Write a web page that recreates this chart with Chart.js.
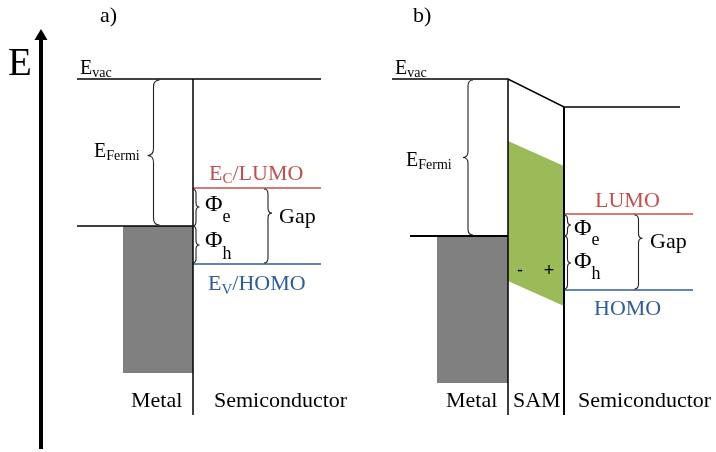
<!DOCTYPE html>
<html>
<head>
<meta charset="utf-8">
<script src="https://cdn.jsdelivr.net/npm/chart.js@4/dist/chart.umd.min.js"></script>
<style>
  html, body { margin: 0; padding: 0; background: #ffffff; }
  #wrap { width: 716px; height: 452px; }
</style>
</head>
<body>
<div id="wrap"><canvas id="bands" width="716" height="452"></canvas></div>
<script>
// Energy levels in arbitrary units (higher = more energetic).
// Index 0 = panel a (metal / semiconductor), index 1 = panel b (metal / SAM / semiconductor).
const vacuumA = [37.3, 37.3];      // metal side, semiconductor side
const vacuumB = [37.3, 34.5];      // metal side, semiconductor side (shifted by SAM dipole)
const fermi = [22.6, 21.6];
const lumo = [26.4, 23.8];
const homo = [18.8, 16.2];
const metalBase = [7.9, 6.9];      // lower edge of the filled metal band
const samTop = [31.1, 28.6];       // SAM dipole band, metal side / semiconductor side
const samBase = [17.1, 14.6];
const regionsA = ['Metal', 'Semiconductor'];
const regionsB = ['Metal', 'SAM', 'Semiconductor'];

// Horizontal layout of the two band diagrams (x-axis units)
const geo = {
  a: { start: 77, fermiStart: 77, metalLeft: 123, iface: 193, end: 321 },
  b: { start: 392, fermiStart: 410, metalLeft: 437, iface1: 508, iface2: 564, vacEnd: 680, end: 693 },
  floor: 3.7
};

const RED = '#C0504D';
const BLUE = '#2F5D99';
const GREEN = '#9BBB59';
const GREY = '#808080';
const SERIF = '"Liberation Serif", "Times New Roman", serif';

const pts = (...p) => p.map(([x, y]) => ({ x, y }));

function line(data, color, width, order = 1) {
  return { data, borderColor: color, borderWidth: width, pointRadius: 0, fill: false, order, tension: 0 };
}
function shape(data, color) {
  return { data, backgroundColor: color, borderColor: color, borderWidth: 0, pointRadius: 0, fill: 'shape', order: 5, tension: 0 };
}

const A = geo.a, B = geo.b;
const datasets = [
  // panel a
  line(pts([A.start, vacuumA[0]], [A.end, vacuumA[1]]), '#000', 1.5),
  line(pts([A.fermiStart, fermi[0]], [A.iface, fermi[0]]), '#000', 1.5),
  line(pts([A.iface, vacuumA[0]], [A.iface, geo.floor]), '#000', 1.5),
  line(pts([A.iface, lumo[0]], [A.end, lumo[0]]), RED, 1.5),
  line(pts([A.iface, homo[0]], [A.end, homo[0]]), BLUE, 1.5),
  shape(pts([A.metalLeft, fermi[0]], [A.iface, fermi[0]], [A.iface, metalBase[0]], [A.metalLeft, metalBase[0]], [A.metalLeft, fermi[0]]), GREY),
  // panel b
  line(pts([B.start, vacuumB[0]], [B.iface1, vacuumB[0]], [B.iface2, vacuumB[1]], [B.vacEnd, vacuumB[1]]), '#000', 1.5),
  line(pts([B.fermiStart, fermi[1]], [B.iface1, fermi[1]]), '#000', 2),
  line(pts([B.iface1, vacuumB[0]], [B.iface1, geo.floor]), '#000', 1.5),
  line(pts([B.iface2, vacuumB[1]], [B.iface2, geo.floor]), '#000', 2),
  line(pts([B.iface2, lumo[1]], [B.end, lumo[1]]), RED, 1.5),
  line(pts([B.iface2, homo[1]], [B.end, homo[1]]), BLUE, 1.5),
  shape(pts([B.metalLeft, fermi[1]], [B.iface1, fermi[1]], [B.iface1, metalBase[1]], [B.metalLeft, metalBase[1]], [B.metalLeft, fermi[1]]), GREY),
  shape(pts([B.iface1, samTop[0]], [B.iface2, samTop[1]], [B.iface2, samBase[1]], [B.iface1, samBase[0]], [B.iface1, samTop[0]]), GREEN)
];

// Vertical curly brace; dir = +1 tip points right, -1 tip points left
function brace(ctx, x, yTop, yBot, yTip, dir, w) {
  const r = Math.min(w + 1, (yBot - yTop) / 4);
  ctx.beginPath();
  ctx.moveTo(x - dir * w, yTop);
  ctx.quadraticCurveTo(x, yTop, x, yTop + r);
  ctx.lineTo(x, yTip - r);
  ctx.quadraticCurveTo(x, yTip, x + dir * w, yTip);
  ctx.quadraticCurveTo(x, yTip, x, yTip + r);
  ctx.lineTo(x, yBot - r);
  ctx.quadraticCurveTo(x, yBot, x - dir * w, yBot);
  ctx.stroke();
}

// Text made of runs: [text, size, baselineShift]
function rich(ctx, x, y, runs, color) {
  ctx.fillStyle = color;
  ctx.textBaseline = 'alphabetic';
  ctx.textAlign = 'left';
  let cx = x;
  for (const [t, size, dy, fam] of runs) {
    ctx.font = size + 'px ' + (fam || SERIF);
    ctx.fillText(t, cx, y + (dy || 0));
    cx += ctx.measureText(t).width;
  }
}

const annotations = {
  id: 'annotations',
  afterDatasetsDraw(chart) {
    const ctx = chart.ctx;
    const X = v => chart.scales.x.getPixelForValue(v);
    const Y = v => chart.scales.y.getPixelForValue(v);
    ctx.save();

    // Energy axis arrow
    ctx.fillStyle = '#000';
    ctx.fillRect(X(39), Y(42.3) + 8, 4, Y(0.3) - Y(42.3) - 8);
    ctx.beginPath();
    ctx.moveTo(X(41), Y(42.3));
    ctx.lineTo(X(47.5), Y(42.3) + 11);
    ctx.lineTo(X(34.5), Y(42.3) + 11);
    ctx.closePath();
    ctx.fill();
    rich(ctx, X(8), Y(3.3) + 0 + 72 - Y(3.3) + 3, [['E', 39]], '#000');

    // Braces
    ctx.strokeStyle = '#222';
    ctx.lineWidth = 1.1;
    brace(ctx, X(153.5), Y(vacuumA[0]) + 1, Y(fermi[0]) - 1, Y(22.6 + (37.3 - 22.6) * 0.48), -1, 6);
    brace(ctx, X(196), Y(lumo[0]) + 1, Y(fermi[0]), Y((lumo[0] + fermi[0]) / 2), 1, 3.5);
    brace(ctx, X(196), Y(fermi[0]), Y(homo[0]) - 1, Y((fermi[0] + homo[0]) / 2), 1, 3.5);
    brace(ctx, X(268), Y(lumo[0]) + 1, Y(homo[0]) - 1, Y(lumo[0] - (lumo[0] - homo[0]) * 0.33), 1, 4);

    brace(ctx, X(468), Y(vacuumB[0]) + 1, Y(fermi[1]) - 1, Y(fermi[1] + (vacuumB[0] - fermi[1]) * 0.50), -1, 5);
    brace(ctx, X(567.5), Y(lumo[1]) + 1, Y(fermi[1]), Y((lumo[1] + fermi[1]) / 2), 1, 3.5);
    brace(ctx, X(567.5), Y(fermi[1]), Y(homo[1]) - 1, Y((fermi[1] + homo[1]) / 2), 1, 3.5);
    brace(ctx, X(638.5), Y(lumo[1]) + 1, Y(homo[1]) - 1, Y(lumo[1] - (lumo[1] - homo[1]) * 0.32), 1, 4);

    // Panel a labels
    rich(ctx, X(100), 22, [['a)', 22]], '#000');
    rich(ctx, X(80), Y(vacuumA[0]) - 5, [['E', 20], ['vac', 14, 3]], '#000');
    rich(ctx, X(94), 157, [['E', 20], ['Fermi', 14, 3]], '#000');
    rich(ctx, X(209), Y(lumo[0]) - 8, [['E', 22], ['C', 15, 3], ['/LUMO', 22]], RED);
    rich(ctx, X(205), 211, [['\u03A6', 24], ['e', 18, 11]], '#000');
    rich(ctx, X(205), 247, [['\u03A6', 24], ['h', 18, 12]], '#000');
    rich(ctx, X(279), 223, [['Gap', 22]], '#000');
    rich(ctx, X(208), Y(homo[0]) + 26, [['E', 22], ['V', 15, 4], ['/HOMO', 22]], BLUE);
    rich(ctx, X(131), 407, [[regionsA[0], 22]], '#000');
    rich(ctx, X(214), 407, [[regionsA[1], 22]], '#000');

    // Panel b labels
    rich(ctx, X(413), 22, [['b)', 22]], '#000');
    rich(ctx, X(395), Y(vacuumB[0]) - 5, [['E', 20], ['vac', 14, 3]], '#000');
    rich(ctx, X(406), 166, [['E', 20], ['Fermi', 14, 3]], '#000');
    rich(ctx, X(595), Y(lumo[1]) - 7, [['LUMO', 22]], RED);
    rich(ctx, X(574), 235, [['\u03A6', 24], ['e', 18, 10]], '#000');
    rich(ctx, X(574), 268, [['\u03A6', 24], ['h', 18, 11]], '#000');
    rich(ctx, X(650), 248, [['Gap', 22]], '#000');
    rich(ctx, X(594), Y(homo[1]) + 25, [['HOMO', 22]], BLUE);
    ctx.font = '18px "Liberation Sans", Arial, sans-serif';
    ctx.fillStyle = '#000';
    ctx.textAlign = 'center';
    ctx.textBaseline = 'middle';
    ctx.fillText('-', X(520), 271);
    ctx.fillText('+', X(549), 271);
    rich(ctx, X(446), 407, [[regionsB[0], 22]], '#000');
    rich(ctx, X(513), 407, [[regionsB[1], 22]], '#000');
    rich(ctx, X(578), 407, [[regionsB[2], 22]], '#000');

    ctx.restore();
  }
};

new Chart(document.getElementById('bands'), {
  type: 'line',
  data: { datasets },
  options: {
    responsive: false,
    animation: false,
    events: [],
    layout: { padding: 0 },
    plugins: { legend: { display: false }, tooltip: { enabled: false } },
    scales: {
      x: { type: 'linear', min: 0, max: 716, display: false },
      y: { type: 'linear', min: 0, max: 45.2, display: false }
    }
  },
  plugins: [annotations]
});
</script>
</body>
</html>
